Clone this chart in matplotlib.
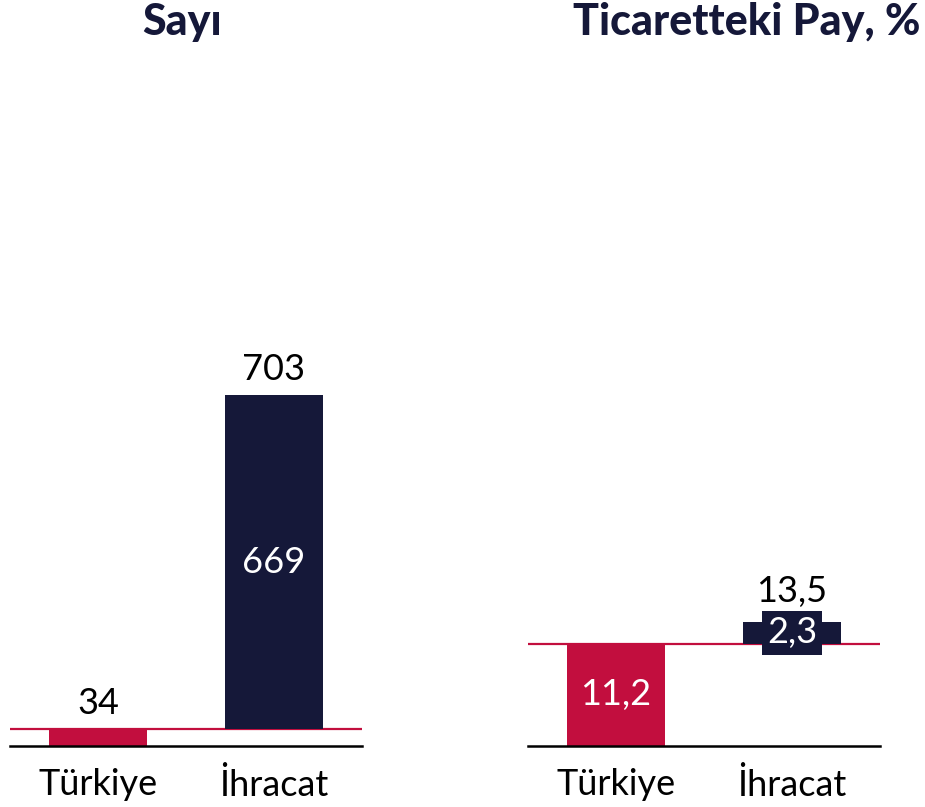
import matplotlib.pyplot as plt

# Data
categories = ['Türkiye', 'İhracat']
count_base = 34
count_export = 669
count_total = 703
share_base = 11.2
share_export = 2.3
share_total = 13.5

red = '#C20E3E'
navy = '#151839'
plt.rcParams['font.family'] = ['Lato', 'DejaVu Sans']

W, H = 925, 807
fig = plt.figure(figsize=(W / 100, H / 100), dpi=100)


def fmt(v):
    s = f'{v:.1f}' if isinstance(v, float) else str(v)
    return s.replace('.', ',')


def panel(left, base, extra, total, ymax, title, title_x):
    ax = fig.add_axes([left / W, (H - 746) / H, 352 / W, 690 / H])
    x = [0, 1]
    width = 0.557
    ax.axhline(base, color=red, lw=1.6, zorder=1)
    ax.bar(x[0], base, width, color=red, zorder=2)
    ax.bar(x[1], extra, width, bottom=base, color=navy, zorder=2)
    ax.set_xlim(-0.5, 1.5)
    ax.set_ylim(0, ymax)
    for s in ['top', 'right', 'left']:
        ax.spines[s].set_visible(False)
    ax.spines['bottom'].set_linewidth(1.8)
    ax.spines['bottom'].set_color('black')
    ax.set_yticks([])
    ax.set_xticks(x)
    ax.set_xticklabels(categories, fontsize=26)
    ax.tick_params(axis='x', length=0, pad=16)
    fig.text(title_x / W, 1 - 22 / H, title, ha='center', va='center',
             fontsize=31, fontweight='black', color=navy)
    return ax


# Left: Sayı
ax1 = panel(10, count_base, count_export, count_total, 1382, 'Sayı', 182)
ax1.text(0, count_base + 18, fmt(count_base), ha='center', va='bottom',
         fontsize=26, color='black')
ax1.text(1, count_total + 18, fmt(count_total), ha='center', va='bottom',
         fontsize=26, color='black')
ax1.text(1, count_base + count_export / 2, fmt(count_export), ha='center',
         va='center', fontsize=26, color='white', zorder=3)

# Right: Ticaretteki Pay, %
ax2 = panel(528, share_base, share_export, share_total, 75.4,
            'Ticaretteki Pay, %', 747)
ax2.text(0, share_base / 2, fmt(share_base), ha='center', va='center',
         fontsize=26, color='white', zorder=3)
ax2.text(1, share_base + share_export / 2, fmt(share_export), ha='center',
         va='center', fontsize=26, color='white', zorder=3,
         bbox=dict(boxstyle='square,pad=0.15', fc=navy, ec='none'))
ax2.text(1, share_total + 1.6, fmt(share_total), ha='center', va='bottom',
         fontsize=26, color='black')

fig.savefig('out.png', dpi=100)
